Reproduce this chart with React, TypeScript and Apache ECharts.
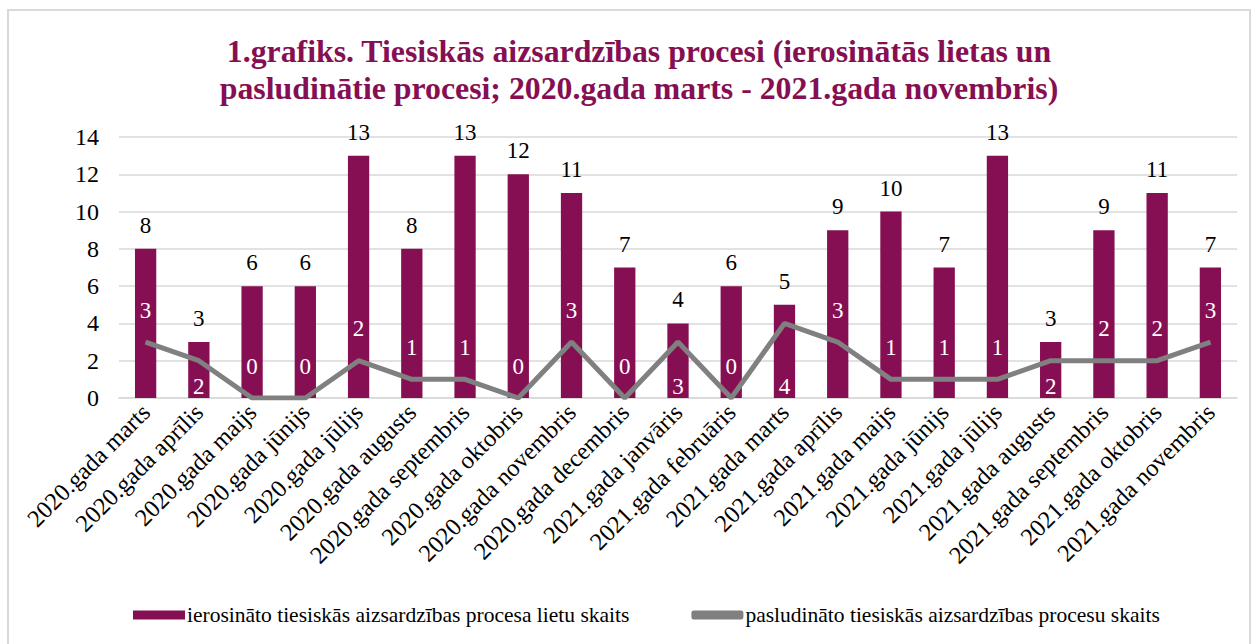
import React, { useEffect, useRef } from "react";
import * as echarts from "echarts";

const categories = [
  "2020.gada marts", "2020.gada aprīlis", "2020.gada maijs", "2020.gada jūnijs",
  "2020.gada jūlijs", "2020.gada augusts", "2020.gada septembris", "2020.gada oktobris",
  "2020.gada novembris", "2020.gada decembris", "2021.gada janvāris", "2021.gada februāris",
  "2021.gada marts", "2021.gada aprīlis", "2021.gada maijs", "2021.gada jūnijs",
  "2021.gada jūlijs", "2021.gada augusts", "2021.gada septembris", "2021.gada oktobris",
  "2021.gada novembris",
];
const initiated = [8, 3, 6, 6, 13, 8, 13, 12, 11, 7, 4, 6, 5, 9, 10, 7, 13, 3, 9, 11, 7];
const declared = [3, 2, 0, 0, 2, 1, 1, 0, 3, 0, 3, 0, 4, 3, 1, 1, 1, 2, 2, 2, 3];
// label placement of the line's value labels: "a" above the point, "b" near bar base
const declaredLabelPlace = ["a", "b", "a", "a", "a", "a", "a", "a", "a", "a", "b", "a", "b", "a", "a", "a", "a", "b", "a", "a", "a"];

const seriesNames = [
  "ierosināto tiesiskās aizsardzības procesa lietu skaits",
  "pasludināto tiesiskās aizsardzības procesu skaits",
];
const titleText =
  "1.grafiks. Tiesiskās aizsardzības procesi (ierosinātās lietas un\npasludinātie procesi; 2020.gada marts - 2021.gada novembris)";

const FONT = "'Liberation Serif', 'Times New Roman', serif";
const BAR = "#860F53";

export default function App() {
  const ref = useRef<HTMLDivElement>(null);
  useEffect(() => {
    if (!ref.current) return;
    const chart = echarts.init(ref.current, undefined, { renderer: "svg" });
    const pxPerUnit = 261 / 14;
    chart.setOption({
      animation: false,
      backgroundColor: "#ffffff",
      textStyle: { fontFamily: FONT },
      graphic: [
        {
          type: "rect",
          shape: { x: 8, y: 10, width: 1242, height: 640 },
          style: { fill: "none", stroke: "#d9d9d9", lineWidth: 2 },
          silent: true,
        },
      ],
      title: {
        text: titleText,
        left: 634,
        textAlign: "center",
        top: 28,
        textStyle: {
          fontFamily: FONT,
          fontSize: 31.8,
          fontWeight: "bold",
          color: BAR,
          lineHeight: 37,
        },
      },
      legend: {
        top: 599,
        left: 128,
        itemGap: 62,
        itemWidth: 52,
        itemHeight: 9,
        textStyle: { fontFamily: FONT, fontSize: 21.5, color: "#000", padding: [0, 0, 0, -3] },
        data: [
          { name: seriesNames[0], icon: "rect" },
          { name: seriesNames[1], icon: "roundRect" },
        ],
      },
      grid: { left: 119, right: 17, top: 137, bottom: 246, containLabel: false },
      xAxis: {
        type: "category",
        data: categories,
        axisTick: { show: false },
        axisLine: { show: true, lineStyle: { color: "#d9d9d9", width: 1.5 } },
        axisLabel: {
          rotate: 45,
          interval: 0,
          fontFamily: FONT,
          fontSize: 24.5,
          color: "#000",
          margin: 10,
        },
      },
      yAxis: {
        type: "value",
        min: 0,
        max: 14,
        interval: 2,
        axisLine: { show: false },
        axisTick: { show: false },
        splitLine: { lineStyle: { color: "#d9d9d9", width: 1.5 } },
        axisLabel: { fontFamily: FONT, fontSize: 24, color: "#000", margin: 20 },
      },
      series: [
        {
          name: seriesNames[0],
          type: "bar",
          data: initiated,
          barWidth: "40%",
          itemStyle: { color: BAR },
          label: {
            show: true,
            position: "top",
            distance: 12,
            fontFamily: FONT,
            fontSize: 23,
            color: "#000",
          },
        },
        {
          name: seriesNames[1],
          type: "line",
          data: declared.map((v, i) => ({
            value: v,
            label:
              declaredLabelPlace[i] === "a"
                ? { position: "top", distance: 20 }
                : { position: "bottom", distance: Math.max(4, v * pxPerUnit - 24) },
          })),
          symbol: "circle",
          symbolSize: 1,
          showSymbol: true,
          lineStyle: { color: "#808080", width: 5 },
          itemStyle: { color: "#808080" },
          label: {
            show: true,
            fontFamily: FONT,
            fontSize: 23,
            color: "#ffffff",
          },
          z: 3,
        },
      ],
    });
    return () => chart.dispose();
  }, []);
  return (
    <div
      ref={ref}
      style={{ position: "absolute", left: 0, top: 0, width: 1254, height: 644 }}
    />
  );
}
